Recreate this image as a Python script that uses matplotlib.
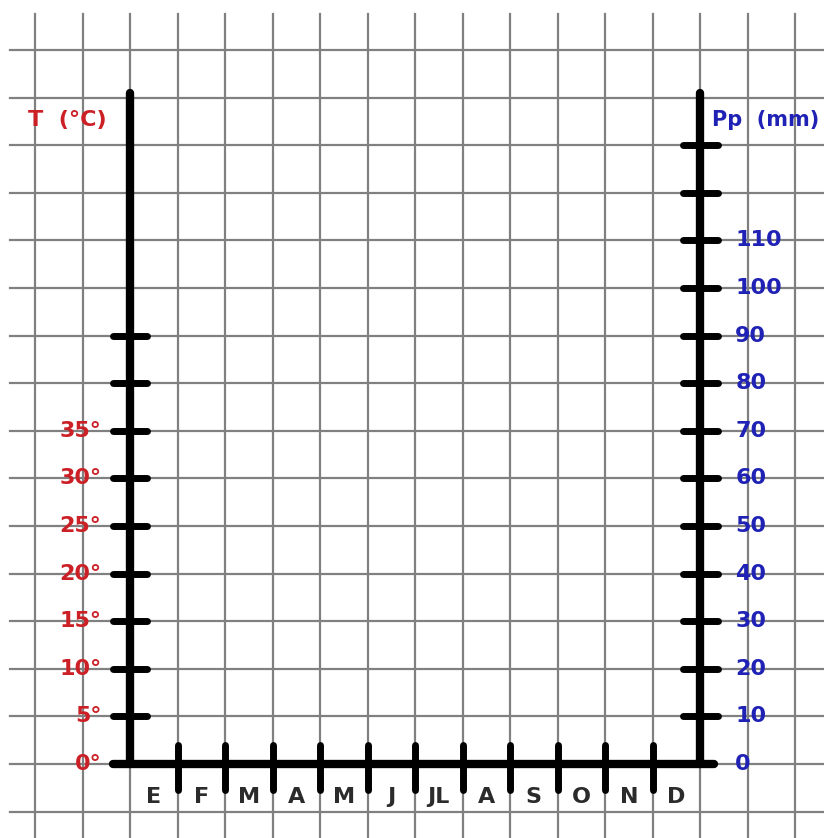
import matplotlib.pyplot as plt

# blank climograph template (temperature + precipitation)
months = ['E', 'F', 'M', 'A', 'M', 'J', 'JL', 'A', 'S', 'O', 'N', 'D']
temp_ticks = [0, 5, 10, 15, 20, 25, 30, 35, 40, 45]
temp_labels = ['0°', '5°', '10°', '15°', '20°', '25°', '30°', '35°', '', '']
precip_ticks = [0, 10, 20, 30, 40, 50, 60, 70, 80, 90, 100, 110, 120, 130]
precip_labels = ['0', '10', '20', '30', '40', '50', '60', '70', '80', '90',
                 '100', '110', '', '']

RED = '#cc2027'
BLUE = '#1f22b4'


def make_chart():
    fig = plt.figure(figsize=(8.24, 8.38), dpi=100)
    ax = fig.add_axes([0, 0, 1, 1])
    ax.set_xlim(-2.737, 14.61)
    ax.set_ylim(-7.77, 80.25)      # temperature scale, 5 degrees per square
    ax.axis('off')

    ax2 = ax.twinx()
    ax2.set_ylim(-15.54, 160.5)    # precipitation scale, 10 mm per square
    ax2.axis('off')

    # squared paper
    for gx in range(-2, 15):
        ax.plot([gx, gx], [-7.77, 78.8], color='#808080', lw=1.6, zorder=1)
    for gy in range(-5, 80, 5):
        ax.plot([-2.53, 14.61], [gy, gy], color='#808080', lw=1.6, zorder=1)

    n = len(months)
    top_t = 70.5
    # axes
    ax.plot([0, 0], [0, top_t], color='black', lw=6, solid_capstyle='round', zorder=3)
    ax.plot([n, n], [0, top_t], color='black', lw=6, solid_capstyle='round', zorder=3)
    ax.plot([-0.36, n + 0.3], [0, 0], color='black', lw=6, solid_capstyle='round', zorder=3)

    # temperature ticks + labels
    for t, lab in zip(temp_ticks, temp_labels):
        if t > 0:
            ax.plot([-0.36, 0.36], [t, t], color='black', lw=5,
                    solid_capstyle='round', zorder=3)
        if lab:
            ax.text(-0.6, t, lab, color=RED, fontsize=16, fontweight='bold',
                    ha='right', va='center', zorder=4)

    # precipitation ticks + labels
    for p, lab in zip(precip_ticks, precip_labels):
        if p > 0:
            ax2.plot([n - 0.36, n + 0.38], [p, p], color='black', lw=5,
                     solid_capstyle='round', zorder=3)
        if lab:
            ax2.text(n + 0.74, p, lab, color=BLUE, fontsize=16, fontweight='bold',
                     ha='left', va='center', zorder=4)

    # month separators + labels
    for i, m in enumerate(months):
        if i > 0:
            ax.plot([i, i], [-2.75, 2.0], color='black', lw=5,
                    solid_capstyle='round', zorder=3)
        ax.text(i + 0.5, -3.5, m, color='#2b2b2b', fontsize=16, fontweight='bold',
                ha='center', va='center', zorder=4)

    ax.text(-2.15, 67.6, 'T  (°C)', color=RED, fontsize=16, fontweight='bold',
            ha='left', va='center', zorder=4)
    ax.text(n + 0.25, 67.6, 'Pp  (mm)', color=BLUE, fontsize=15, fontweight='bold',
            ha='left', va='center', zorder=4)

    fig.savefig('out.png', dpi=100, facecolor='white')


if __name__ == '__main__':
    make_chart()
